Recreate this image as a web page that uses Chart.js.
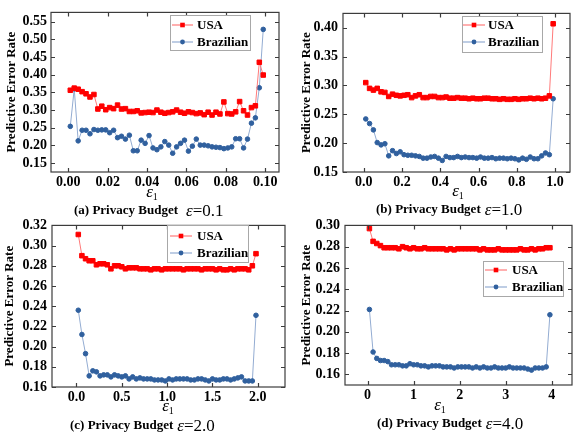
<!DOCTYPE html>
<html>
<head>
<meta charset="utf-8">
<script src="https://cdn.jsdelivr.net/npm/chart.js@4.4.0/dist/chart.umd.min.js"></script>
<style>
  html, body { margin: 0; padding: 0; background: #fff; overflow: hidden; }
  #wrap { position: relative; width: 575px; height: 434px; overflow: hidden; font-family: "Liberation Serif", serif; }
  .panel { position: absolute; }
  .xl { position: absolute; transform: translate(-50%, -50%); font-size: 17px; font-style: italic; line-height: 1; white-space: nowrap; }
  .xl sub { font-size: 10px; font-style: normal; vertical-align: -3px; }
  .cap { position: absolute; transform: translateY(-50%); white-space: nowrap; line-height: 1; }
  .cap b { font-size: 13px; }
  .cap .eq { font-size: 17px; position: relative; top: 2px; }
</style>
</head>
<body>
<div id="wrap">
  <canvas id="cA" class="panel" width="290" height="195" style="left:0;top:0"></canvas>
  <canvas id="cB" class="panel" width="280" height="195" style="left:295px;top:0"></canvas>
  <canvas id="cC" class="panel" width="290" height="195" style="left:0;top:212px"></canvas>
  <canvas id="cD" class="panel" width="282" height="195" style="left:295px;top:212px"></canvas>

  <div class="xl" style="left:152px;top:192px">ε<sub>1</sub></div>
  <div class="xl" style="left:458px;top:191px">ε<sub>1</sub></div>
  <div class="xl" style="left:168px;top:406px">ε<sub>1</sub></div>
  <div class="xl" style="left:440px;top:405px">ε<sub>1</sub></div>

  <div class="cap" style="left:74px;top:208px"><b>(a) Privacy Budget</b><span class="eq" style="margin-left:8px"><i>ε</i>=0.1</span></div>
  <div class="cap" style="left:376px;top:207px"><b>(b) Privacy Budget</b><span class="eq" style="margin-left:4px"><i>ε</i>=1.0</span></div>
  <div class="cap" style="left:70px;top:423px"><b>(c) Privacy Budget</b><span class="eq" style="margin-left:4px"><i>ε</i>=2.0</span></div>
  <div class="cap" style="left:377px;top:421px"><b>(d) Privacy Budget</b><span class="eq" style="margin-left:4px"><i>ε</i>=4.0</span></div>
</div>

<script>
// ---- data ----
var seriesNames = ['USA', 'Brazilian'];

// (a) epsilon = 0.1
var epsA = [0.001,0.003,0.005,0.007,0.009,0.011,0.013,0.015,0.017,0.019,
            0.021,0.023,0.025,0.027,0.029,0.031,0.033,0.035,0.037,0.039,
            0.041,0.043,0.045,0.047,0.049,0.051,0.053,0.055,0.057,0.059,
            0.061,0.063,0.065,0.067,0.069,0.071,0.073,0.075,0.077,0.079,
            0.081,0.083,0.085,0.087,0.089,0.091,0.093,0.095,0.097,0.099];
var usaA = [0.356,0.362,0.359,0.352,0.346,0.337,0.344,0.303,0.311,0.301,
            0.307,0.304,0.314,0.303,0.304,0.296,0.296,0.298,0.292,0.293,
            0.294,0.293,0.300,0.294,0.291,0.293,0.295,0.300,0.294,0.291,
            0.295,0.293,0.290,0.292,0.287,0.294,0.286,0.294,0.289,0.323,
            0.290,0.289,0.295,0.324,0.298,0.286,0.307,0.312,0.435,0.399];
var brazilA = [0.254,0.360,0.213,0.243,0.243,0.233,0.245,0.243,0.244,0.244,
               0.236,0.243,0.222,0.226,0.218,0.229,0.185,0.185,0.215,0.206,
               0.228,0.193,0.188,0.196,0.211,0.201,0.178,0.196,0.206,0.215,
               0.184,0.198,0.218,0.201,0.201,0.199,0.196,0.195,0.194,0.191,
               0.193,0.196,0.219,0.219,0.193,0.218,0.263,0.278,0.363,0.528];
var xTicksA = [0, 0.02, 0.04, 0.06, 0.08, 0.10];
var yTicksA = [0.15, 0.20, 0.25, 0.30, 0.35, 0.40, 0.45, 0.50, 0.55];

// (b) epsilon = 1.0
var epsB = [0.01,0.03,0.05,0.07,0.09,0.11,0.13,0.15,0.17,0.19,
            0.21,0.23,0.25,0.27,0.29,0.31,0.33,0.35,0.37,0.39,
            0.41,0.43,0.45,0.47,0.49,0.51,0.53,0.55,0.57,0.59,
            0.61,0.63,0.65,0.67,0.69,0.71,0.73,0.75,0.77,0.79,
            0.81,0.83,0.85,0.87,0.89,0.91,0.93,0.95,0.97,0.99];
var usaB = [0.305,0.295,0.292,0.295,0.289,0.288,0.281,0.285,0.283,0.282,
            0.283,0.284,0.279,0.282,0.284,0.279,0.279,0.281,0.281,0.279,
            0.279,0.280,0.278,0.278,0.279,0.278,0.278,0.277,0.278,0.277,
            0.277,0.278,0.278,0.277,0.277,0.276,0.277,0.276,0.276,0.277,
            0.276,0.277,0.277,0.278,0.277,0.278,0.277,0.278,0.282,0.407];
var brazilB = [0.242,0.234,0.223,0.201,0.197,0.199,0.178,0.187,0.182,0.185,
               0.180,0.179,0.179,0.178,0.177,0.174,0.174,0.176,0.177,0.174,
               0.170,0.177,0.175,0.175,0.177,0.175,0.176,0.175,0.175,0.174,
               0.176,0.174,0.174,0.175,0.173,0.174,0.174,0.173,0.174,0.173,
               0.171,0.174,0.172,0.176,0.173,0.173,0.178,0.183,0.180,0.277];
var xTicksB = [0, 0.2, 0.4, 0.6, 0.8, 1.0];
var yTicksB = [0.15, 0.20, 0.25, 0.30, 0.35, 0.40];

// (c) epsilon = 2.0
var epsC = [0.02,0.06,0.10,0.14,0.18,0.22,0.26,0.30,0.34,0.38,
            0.42,0.46,0.50,0.54,0.58,0.62,0.66,0.70,0.74,0.78,
            0.82,0.86,0.90,0.94,0.98,1.02,1.06,1.10,1.14,1.18,
            1.22,1.26,1.30,1.34,1.38,1.42,1.46,1.50,1.54,1.58,
            1.62,1.66,1.70,1.74,1.78,1.82,1.86,1.90,1.94,1.98];
var usaC = [0.311,0.290,0.287,0.285,0.285,0.281,0.282,0.282,0.281,0.277,
            0.280,0.280,0.279,0.277,0.278,0.278,0.278,0.277,0.277,0.277,
            0.276,0.277,0.277,0.276,0.277,0.277,0.277,0.277,0.277,0.276,
            0.277,0.277,0.277,0.277,0.276,0.277,0.277,0.277,0.276,0.277,
            0.276,0.276,0.277,0.276,0.277,0.277,0.277,0.276,0.280,0.292];
var brazilC = [0.236,0.212,0.193,0.171,0.176,0.175,0.171,0.172,0.172,0.170,
               0.172,0.171,0.170,0.171,0.168,0.170,0.168,0.169,0.168,0.168,
               0.168,0.167,0.167,0.167,0.166,0.168,0.167,0.168,0.168,0.168,
               0.168,0.167,0.167,0.168,0.168,0.167,0.166,0.168,0.167,0.167,
               0.168,0.168,0.167,0.168,0.169,0.170,0.166,0.166,0.166,0.231];
var xTicksC = [0, 0.5, 1.0, 1.5, 2.0];
var yTicksC = [0.16, 0.18, 0.20, 0.22, 0.24, 0.26, 0.28, 0.30, 0.32];

// (d) epsilon = 4.0
var epsD = [0.04,0.12,0.20,0.28,0.36,0.44,0.52,0.60,0.68,0.76,
            0.84,0.92,1.00,1.08,1.16,1.24,1.32,1.40,1.48,1.56,
            1.64,1.72,1.80,1.88,1.96,2.04,2.12,2.20,2.28,2.36,
            2.44,2.52,2.60,2.68,2.76,2.84,2.92,3.00,3.08,3.16,
            3.24,3.32,3.40,3.48,3.56,3.64,3.72,3.80,3.88,3.96];
var usaD = [0.297,0.285,0.283,0.281,0.279,0.279,0.279,0.279,0.278,0.280,
            0.279,0.278,0.279,0.278,0.278,0.279,0.278,0.278,0.278,0.278,
            0.278,0.277,0.278,0.277,0.278,0.278,0.278,0.278,0.278,0.278,
            0.277,0.278,0.277,0.277,0.277,0.278,0.277,0.277,0.277,0.277,
            0.277,0.278,0.277,0.277,0.278,0.277,0.278,0.278,0.279,0.279];
var brazilD = [0.221,0.181,0.175,0.173,0.173,0.172,0.169,0.169,0.169,0.168,
               0.168,0.170,0.169,0.169,0.168,0.168,0.167,0.168,0.168,0.168,
               0.167,0.167,0.167,0.166,0.167,0.167,0.167,0.167,0.166,0.167,
               0.166,0.167,0.166,0.166,0.167,0.166,0.166,0.166,0.167,0.166,
               0.166,0.166,0.166,0.165,0.164,0.166,0.166,0.166,0.167,0.216];
var xTicksD = [0, 1, 2, 3, 4];
var yTicksD = [0.16, 0.18, 0.20, 0.22, 0.24, 0.26, 0.28, 0.30];

// ---- styling ----
var FONT = 'Liberation Serif, Times New Roman, serif';
var usaStyle = { borderColor: '#ff7a7a', backgroundColor: '#ff0000', pointBorderColor: '#ff0000', pointStyle: 'rect', pointRadius: 3.2 };
var brazilStyle = { borderColor: '#93acd2', backgroundColor: '#30609e', pointBorderColor: '#30609e', pointStyle: 'circle', pointRadius: 2.3 };

// frame round the plot area with inward ticks on all four sides
var framePlugin = {
  id: 'frame',
  afterDraw: function (chart) {
    var ctx = chart.ctx, a = chart.chartArea, x = chart.scales.x, y = chart.scales.y;
    ctx.save();
    ctx.strokeStyle = '#3c3c3c';
    ctx.lineWidth = 1.2;
    ctx.strokeRect(a.left, a.top, a.right - a.left, a.bottom - a.top);
    ctx.beginPath();
    x.ticks.forEach(function (t) {
      var px = Math.round(x.getPixelForValue(t.value)) + 0.5;
      ctx.moveTo(px, a.bottom); ctx.lineTo(px, a.bottom - 4);
      ctx.moveTo(px, a.top); ctx.lineTo(px, a.top + 4);
    });
    y.ticks.forEach(function (t) {
      var py = Math.round(y.getPixelForValue(t.value)) + 0.5;
      ctx.moveTo(a.left, py); ctx.lineTo(a.left + 4, py);
      ctx.moveTo(a.right, py); ctx.lineTo(a.right - 4, py);
    });
    ctx.stroke();
    ctx.restore();
  }
};

// boxed legend with a line sample and marker for each series
var boxLegend = {
  id: 'boxLegend',
  afterDraw: function (chart, args, o) {
    var ctx = chart.ctx;
    ctx.save();
    ctx.fillStyle = '#fff';
    ctx.fillRect(o.x, o.y, o.w, o.h);
    ctx.strokeStyle = '#a8a8a8';
    ctx.lineWidth = 1;
    ctx.strokeRect(o.x + 0.5, o.y + 0.5, o.w, o.h);
    chart.data.datasets.forEach(function (ds, i) {
      var ry = o.rows[i];
      ctx.strokeStyle = ds.borderColor;
      ctx.lineWidth = 1.2;
      ctx.beginPath();
      ctx.moveTo(o.x1, ry); ctx.lineTo(o.x2, ry);
      ctx.stroke();
      var cx = (o.x1 + o.x2) / 2;
      ctx.fillStyle = ds.backgroundColor;
      if (ds.pointStyle === 'rect') {
        ctx.fillRect(cx - 2.3, ry - 2.3, 4.6, 4.6);
      } else {
        ctx.beginPath(); ctx.arc(cx, ry, 2.4, 0, Math.PI * 2); ctx.fill();
      }
      ctx.fillStyle = '#000';
      ctx.font = 'bold 13px ' + FONT;
      ctx.textBaseline = 'middle';
      ctx.fillText(ds.label, o.tx, ry + 1);
    });
    ctx.restore();
  }
};

function makePanel(id, p) {
  var table = function (xs, ys) { return xs.map(function (v, i) { return { x: v, y: ys[i] }; }); };
  return new Chart(document.getElementById(id), {
    type: 'line',
    data: {
      datasets: [
        Object.assign({ label: seriesNames[0], data: table(p.eps, p.usa), borderWidth: 1, tension: 0 }, usaStyle),
        Object.assign({ label: seriesNames[1], data: table(p.eps, p.brazil), borderWidth: 1, tension: 0 }, brazilStyle)
      ]
    },
    options: {
      responsive: false,
      animation: false,
      layout: { padding: { top: p.padTop, right: p.padRight, left: 0, bottom: 0 } },
      plugins: {
        legend: { display: false },
        tooltip: { enabled: false },
        boxLegend: p.legend
      },
      scales: {
        x: {
          type: 'linear',
          min: p.xMin, max: p.xMax,
          grid: { display: false, drawTicks: false },
          border: { display: false },
          afterBuildTicks: function (s) { s.ticks = p.xTicks.map(function (v) { return { value: v }; }); },
          afterFit: function (s) { s.height = p.xHeight; },
          ticks: {
            padding: 2,
            color: '#000',
            font: { family: FONT, size: 14, weight: 'bold' },
            maxRotation: 0,
            callback: function (v) { return Number(v).toFixed(p.xDigits); }
          }
        },
        y: {
          min: p.yMin, max: p.yMax,
          grid: { display: false, drawTicks: false },
          border: { display: false },
          afterBuildTicks: function (s) { s.ticks = p.yTicks.map(function (v) { return { value: v }; }); },
          afterFit: function (s) { s.width = p.yWidth; },
          title: {
            display: true,
            text: 'Predictive Error Rate',
            color: '#000',
            padding: { top: p.titlePad, bottom: 0 },
            font: { family: FONT, size: 13, weight: 'bold' }
          },
          ticks: {
            padding: p.yPad,
            color: '#000',
            font: { family: FONT, size: 14, weight: 'bold' },
            callback: function (v) { return Number(v).toFixed(2); }
          }
        }
      }
    },
    plugins: [framePlugin, boxLegend]
  });
}

makePanel('cA', {
  eps: epsA, usa: usaA, brazil: brazilA, xTicks: xTicksA, yTicks: yTicksA, xDigits: 2,
  xMin: -0.0088, xMax: 0.107, yMin: 0.125, yMax: 0.576,
  padTop: 10, padRight: 11, yWidth: 51, xHeight: 23, yPad: 4, titlePad: 4,
  legend: { x: 170, y: 15, w: 80, h: 35, rows: [25, 42], x1: 172, x2: 193, tx: 197 }
});
makePanel('cB', {
  eps: epsB, usa: usaB, brazil: brazilB, xTicks: xTicksB, yTicks: yTicksB, xDigits: 1,
  xMin: -0.109, xMax: 1.078, yMin: 0.15, yMax: 0.425,
  padTop: 9, padRight: 3, yWidth: 48, xHeight: 23, yPad: 5, titlePad: 4,
  legend: { x: 167, y: 16, w: 80, h: 36, rows: [25, 42], x1: 168, x2: 190, tx: 193 }
});
makePanel('cC', {
  eps: epsC, usa: usaC, brazil: brazilC, xTicks: xTicksC, yTicks: yTicksC, xDigits: 1,
  xMin: -0.27, xMax: 2.30, yMin: 0.16, yMax: 0.32,
  padTop: 12, padRight: 4, yWidth: 52, xHeight: 20, yPad: 5, titlePad: 2,
  legend: { x: 167, y: 13, w: 81, h: 37, rows: [24, 41], x1: 170, x2: 192, tx: 197 }
});
makePanel('cD', {
  eps: epsD, usa: usaD, brazil: brazilD, xTicks: xTicksD, yTicks: yTicksD, xDigits: 0,
  xMin: -0.49, xMax: 4.44, yMin: 0.15, yMax: 0.30,
  padTop: 11, padRight: 1, yWidth: 50, xHeight: 22, yPad: 5, titlePad: 4,
  legend: { x: 188, y: 49, w: 80, h: 35, rows: [58, 75], x1: 190, x2: 212, tx: 217 }
});
</script>
</body>
</html>
